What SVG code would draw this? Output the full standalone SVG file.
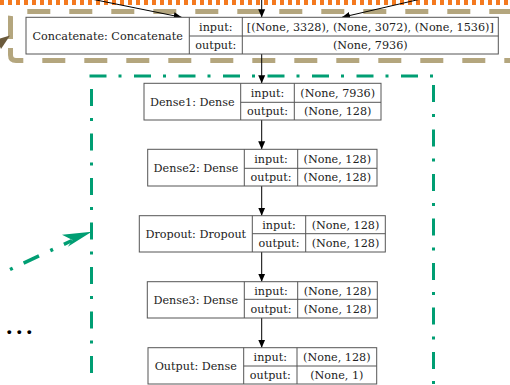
<svg xmlns="http://www.w3.org/2000/svg" width="510" height="385" viewBox="0 0 510 385">
<defs>
<marker id="ah" markerUnits="userSpaceOnUse" markerWidth="10" markerHeight="8" refX="8" refY="4" orient="auto">
<path d="M0,0.5 L8,4 L0,7.5 Z" fill="#000"/>
</marker>
<style>
.box{fill:#fff;stroke:#555;stroke-width:1}
.div{stroke:#555;stroke-width:1;fill:none}
.t{font-family:"DejaVu Serif","Liberation Serif",serif;font-size:11.2px;fill:#222;text-anchor:middle}
.edge{stroke:#000;stroke-width:1;fill:none;marker-end:url(#ah)}
.tan{stroke:#b4a67e;stroke-width:5;fill:none;stroke-dasharray:23 19}
.grn{stroke:#009e73;stroke-width:3;fill:none;stroke-dasharray:17 12 3 12.5}
</style>
</defs>
<rect width="510" height="385" fill="#fff"/>

<!-- group outlines -->
<g id="groups">
<line x1="0" y1="1.5" x2="512" y2="1.5" stroke="#f47a20" stroke-width="7" stroke-dasharray="4 4"/>
<path class="tan" d="M10.5,40 V17 Q10.5,11.5 16,11.5 H515" stroke-dashoffset="-1"/>
<path class="tan" d="M10.5,42 V55 Q10.5,60.5 16,60.5 H515" stroke-dashoffset="-6"/>
<line class="grn" x1="89.5" y1="76" x2="436" y2="76"/>
<line class="grn" x1="91.5" y1="76" x2="91.5" y2="400" stroke-dashoffset="31.5"/>
<line class="grn" x1="433.5" y1="76" x2="433.5" y2="400" stroke-dashoffset="35.5"/>
</g>

<!-- side decorations -->
<g id="side">
<polygon points="10,35.5 -3,39.5 1,49" fill="#6b5a3c"/>
<line x1="10" y1="269.5" x2="72" y2="240.5" stroke="#009e73" stroke-width="3.5" stroke-dasharray="3 12 17 12.5"/>
<polygon points="91.7,231.8 62,234.8 72.5,240 67.8,246.8" fill="#009e73"/>
<text x="6.3" y="334.3" font-family="Liberation Serif, serif" font-weight="bold" font-size="24" letter-spacing="4" fill="#000">...</text>
</g>

<!-- connectors -->
<g id="connectors">
<line class="edge" x1="22" y1="-15" x2="181.7" y2="17.3"/>
<line class="edge" x1="261.7" y1="-5" x2="261.7" y2="17.3"/>
<line class="edge" x1="490" y1="-17" x2="342" y2="17.3"/>
<line class="edge" x1="261.7" y1="54" x2="261.7" y2="83.3"/>
<line class="edge" x1="261.7" y1="120" x2="261.7" y2="149.3"/>
<line class="edge" x1="261.7" y1="186" x2="261.7" y2="215.7"/>
<line class="edge" x1="261.7" y1="252" x2="261.7" y2="281.7"/>
<line class="edge" x1="261.7" y1="318" x2="261.7" y2="347.7"/>
</g>

<g id="concatenate">
<rect class="box" x="26" y="17.3" width="472.3" height="36.7"/>
<path class="div" d="M189.3,17.3 V54 M242.3,17.3 V54 M189.3,36 H498.3"/>
<text class="t" x="107.7" y="39.7">Concatenate: Concatenate</text>
<text class="t" x="215.8" y="30.6">input:</text>
<text class="t" x="215.8" y="49">output:</text>
<text class="t" x="370.3" y="30.6">[(None, 3328), (None, 3072), (None, 1536)]</text>
<text class="t" x="370.3" y="49">(None, 7936)</text>
</g>

<g id="dense1">
<rect class="box" x="144" y="83.3" width="237" height="36.7"/>
<path class="div" d="M240.7,83.3 V120 M294.3,83.3 V120 M240.7,102.3 H381"/>
<text class="t" x="192.3" y="105.7">Dense1: Dense</text>
<text class="t" x="267.5" y="96.6">input:</text>
<text class="t" x="267.5" y="115">output:</text>
<text class="t" x="337.7" y="96.6">(None, 7936)</text>
<text class="t" x="337.7" y="115">(None, 128)</text>
</g>

<g id="dense2">
<rect class="box" x="147.7" y="149.3" width="229.3" height="36.7"/>
<path class="div" d="M244.3,149.3 V186 M297.7,149.3 V186 M244.3,168.3 H377"/>
<text class="t" x="196" y="171.7">Dense2: Dense</text>
<text class="t" x="271" y="162.6">input:</text>
<text class="t" x="271" y="181">output:</text>
<text class="t" x="337.3" y="162.6">(None, 128)</text>
<text class="t" x="337.3" y="181">(None, 128)</text>
</g>

<g id="dropout">
<rect class="box" x="139.3" y="215.7" width="246" height="36.3"/>
<path class="div" d="M252.3,215.7 V252 M305.7,215.7 V252 M252.3,233.7 H385.3"/>
<text class="t" x="195.8" y="237.5">Dropout: Dropout</text>
<text class="t" x="279" y="228.8">input:</text>
<text class="t" x="279" y="246.8">output:</text>
<text class="t" x="345.5" y="228.8">(None, 128)</text>
<text class="t" x="345.5" y="246.8">(None, 128)</text>
</g>

<g id="dense3">
<rect class="box" x="147.3" y="281.7" width="230" height="36.3"/>
<path class="div" d="M244.3,281.7 V318 M297.7,281.7 V318 M244.3,299.3 H377.3"/>
<text class="t" x="195.8" y="303.5">Dense3: Dense</text>
<text class="t" x="271" y="294.5">input:</text>
<text class="t" x="271" y="312.7">output:</text>
<text class="t" x="337.5" y="294.5">(None, 128)</text>
<text class="t" x="337.5" y="312.7">(None, 128)</text>
</g>

<g id="output">
<rect class="box" x="148" y="347.7" width="228.7" height="36.3"/>
<path class="div" d="M243.7,347.7 V384 M297,347.7 V384 M243.7,366 H376.7"/>
<text class="t" x="195.8" y="369.8">Output: Dense</text>
<text class="t" x="270.3" y="360.8">input:</text>
<text class="t" x="270.3" y="379">output:</text>
<text class="t" x="336.8" y="360.8">(None, 128)</text>
<text class="t" x="336.8" y="379">(None, 1)</text>
</g>
</svg>
